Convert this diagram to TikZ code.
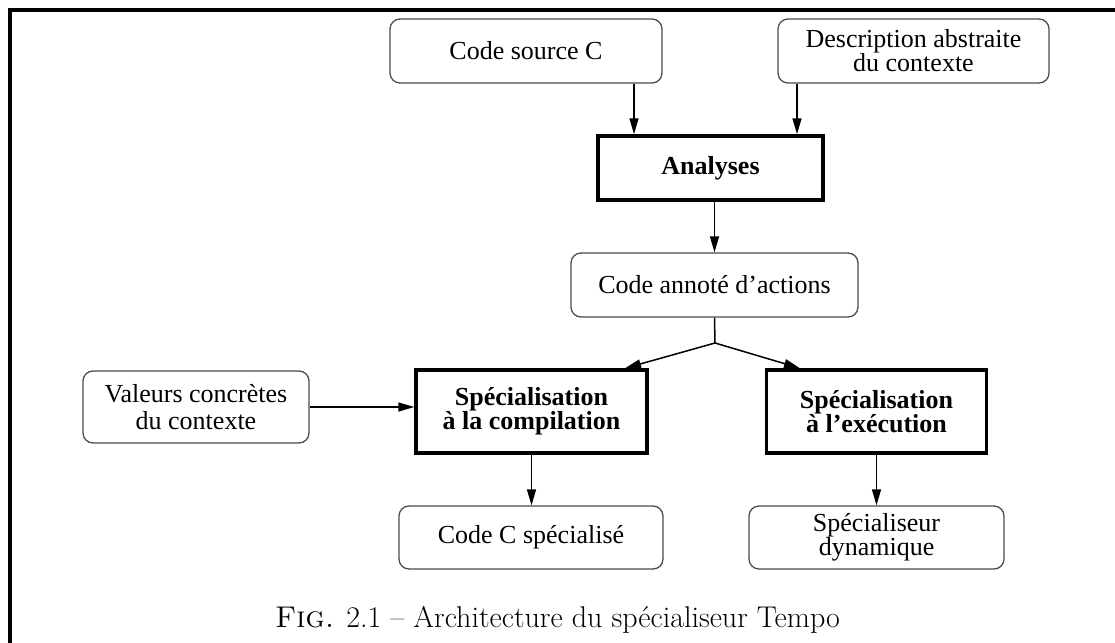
\documentclass[tikz,border=0pt]{standalone}
\usepackage{fontspec}
\newfontfamily\tms{Liberation Serif}
\usetikzlibrary{arrows.meta,calc}
\begin{document}
\begin{tikzpicture}[x=1pt,y=-1pt,
  soft/.style={draw=black!70, line width=1.3pt, rounded corners=10pt, align=center,
    inner sep=0pt, font=\tms\fontsize{26}{24}\selectfont},
  heavy/.style={draw=black, line width=3.5pt, align=center, inner sep=0pt,
    font=\tms\bfseries\fontsize{26}{24}\selectfont},
  flow/.style={line width=1.5pt, -{Triangle[length=16pt,width=9pt]}},
  link/.style={line width=1.5pt}]
\useasboundingbox (0,0) rectangle (1115,642);
% page frame (top and left rules)
\draw[line width=3.5pt] (1120,10) -- (10,10) -- (10,650);

% boxes
\node[soft, minimum width=272pt, minimum height=64pt] (src) at (526,51) {Code source C};
\node[soft, minimum width=271pt, minimum height=64pt] (desc) at (913.5,51) {Description abstraite\\du contexte};
\node[heavy, minimum width=225pt, minimum height=64pt] (ana) at (710.5,168) {Analyses};
\node[soft, minimum width=287pt, minimum height=64pt] (annot) at (714.5,285) {Code annoté d’actions};
\node[soft, minimum width=226pt, minimum height=72pt, font=\tms\fontsize{26}{26.5}\selectfont] (val) at (196,407) {Valeurs concrètes\\du contexte};
\node[heavy, minimum width=231pt, minimum height=83pt] (comp) at (531.5,411.5) {Spécialisation\\à la compilation};
\node[heavy, minimum width=220pt, minimum height=83pt] (exec) at (876.5,411.5) {Spécialisation\\à l’exécution};
\node[soft, minimum width=264pt, minimum height=63pt] (spec) at (531,537.5) {Code C spécialisé};
\node[soft, minimum width=255pt, minimum height=63pt] (dyn) at (876.5,537.5) {Spécialiseur\\dynamique};

% guide columns for the connectors
\coordinate (c1) at (634,0);
\coordinate (c2) at (797,0);
\coordinate (cl) at (625,0);
\coordinate (cr) at (800,0);
\coordinate (j) at (715,343);

% connectors
\draw[flow] (src.south -| c1) -- (ana.north -| c1);
\draw[flow] (desc.south -| c2) -- (ana.north -| c2);
\draw[flow] (ana.south -| annot.north) -- (annot.north);
\draw[link] (annot.south) -- (j);
\draw[flow] (j) -- (comp.north -| cl);
\draw[flow] (j) -- (exec.north -| cr);
\draw[flow] (val.east) -- (val.east -| comp.west);
\draw[flow] (comp.south) -- (comp.south |- spec.north);
\draw[flow] (exec.south) -- (exec.south |- dyn.north);

% caption
\node[font=\fontsize{30}{33}\selectfont, anchor=base] (cap) at (557.5,627)
  {\textsc{Fig.} 2.1 -- Architecture du spécialiseur Tempo};
\end{tikzpicture}
\end{document}
